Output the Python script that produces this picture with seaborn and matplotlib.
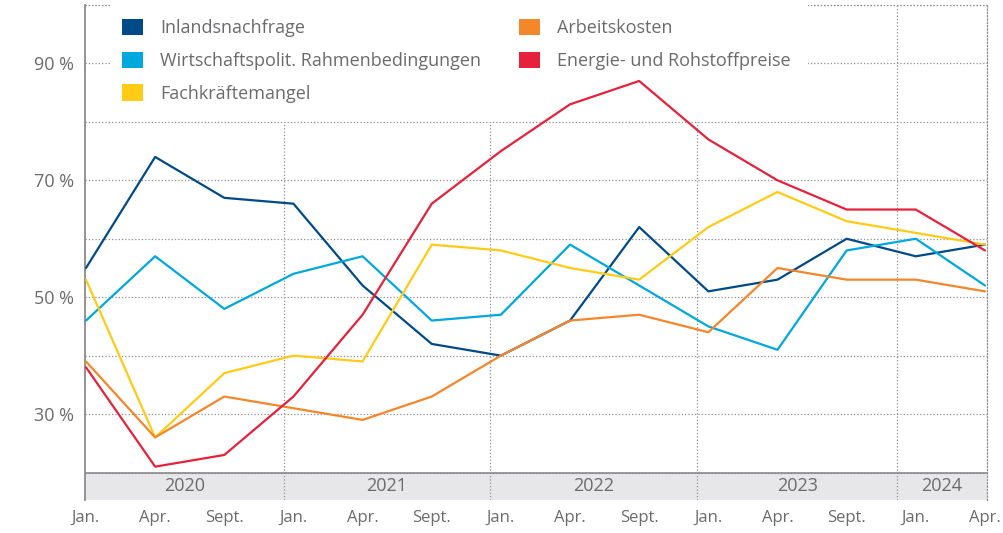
import numpy as np
import pandas as pd
import matplotlib.pyplot as plt
import seaborn as sns
from matplotlib.patches import Patch, Rectangle

sns.set_style('white')
plt.rcParams['font.family'] = ['Open Sans', 'DejaVu Sans']

# quarterly survey points, Jan 2020 .. Apr 2024
months = ['Jan.', 'Apr.', 'Sept.'] * 4 + ['Jan.', 'Apr.']
years = ['2020', '2021', '2022', '2023', '2024']

inlandsnachfrage = [55, 74, 67, 66, 52, 42, 40, 46, 62, 51, 53, 60, 57, 59]
wirtschaftspolitik = [46, 57, 48, 54, 57, 46, 47, 59, 52, 45, 41, 58, 60, 52]
fachkraeftemangel = [53, 26, 37, 40, 39, 59, 58, 55, 53, 62, 68, 63, 61, 59]
arbeitskosten = [39, 26, 33, 31, 29, 33, 40, 46, 47, 44, 55, 53, 53, 51]
energiepreise = [38, 21, 23, 33, 47, 66, 75, 83, 87, 77, 70, 65, 65, 58]

names = ['Inlandsnachfrage', 'Wirtschaftspolit. Rahmenbedingungen', 'Fachkräftemangel',
         'Arbeitskosten', 'Energie- und Rohstoffpreise']
colors = ['#004a88', '#00a8dd', '#ffcb14', '#f5862a', '#e6213b']

wide = pd.DataFrame({'t': np.arange(len(months)),
                     names[0]: inlandsnachfrage,
                     names[1]: wirtschaftspolitik,
                     names[2]: fachkraeftemangel,
                     names[3]: arbeitskosten,
                     names[4]: energiepreise})
df = wide.melt(id_vars='t', var_name='series', value_name='value')

text_col = '#6b6b6d'
grid_col = '#8f8f8f'

fig = plt.figure(figsize=(10.04, 5.33), dpi=100)
ax = fig.add_axes([85 / 1004, 1 - 500 / 533, 902 / 1004, 495 / 533])

ybot = 20 - 27.5 / 5.844
ax.set_xlim(-1 / 69.15, 901 / 69.15)
ax.set_ylim(ybot, 100)

sns.lineplot(data=df, x='t', y='value', hue='series', hue_order=names,
             palette=colors, linewidth=1.6, legend=False, ax=ax, zorder=3)

# grid
ax.set_axisbelow(True)
ax.set_yticks(range(20, 101, 10))
ax.set_yticklabels(['', '30 %', '', '50 %', '', '70 %', '', '90 %', ''])
ax.yaxis.grid(True, linestyle=':', color=grid_col, linewidth=0.9)
ax.axhline(100, linestyle=':', color=grid_col, linewidth=0.9, clip_on=False, zorder=0.6)

# year band
ax.axhspan(ybot, 20, color='#e7e7e9', zorder=0.4, lw=0)
ax.axhline(20, color='#8a8a8a', linewidth=1.2, zorder=1.5)
seps = [2.86, 5.84, 8.84, 11.73]
ax.vlines(seps[:3], ybot, 80, linestyle=':', color=grid_col, linewidth=0.9, zorder=0.6)
ax.vlines(seps[3], ybot, 100, linestyle=':', color=grid_col, linewidth=0.9, zorder=0.6)
edges = [ax.get_xlim()[0]] + seps + [ax.get_xlim()[1]]
for i, yr in enumerate(years):
    ax.text((edges[i] + edges[i + 1]) / 2, (ybot + 20) / 2, yr, ha='center', va='center',
            fontsize=13, color=text_col)

# white area behind the legend
ax.add_patch(Rectangle((24 / 69.15, 80.3), 698 / 69.15, 21, facecolor='white',
                       edgecolor='none', zorder=1, clip_on=False))

ax.set_xticks(range(len(months)))
ax.set_xticklabels(months)
ax.tick_params(axis='x', length=0, pad=7, labelsize=12, labelcolor=text_col)
ax.tick_params(axis='y', length=0, pad=8, labelsize=13, labelcolor=text_col)
ax.set_xlabel('')
ax.set_ylabel('')

for s in ['top', 'bottom']:
    ax.spines[s].set_visible(False)
ax.spines['left'].set_color('#8a8a8a')
ax.spines['left'].set_linewidth(1.3)
ax.spines['right'].set_color(grid_col)
ax.spines['right'].set_linestyle(':')
ax.spines['right'].set_linewidth(0.9)

handles = [Patch(facecolor=c, edgecolor='none') for c in colors]
leg_kw = dict(frameon=False, loc='upper left', bbox_transform=fig.transFigure,
              borderaxespad=0, borderpad=0, handlelength=1.15, handleheight=1.0,
              handletextpad=0.95, labelspacing=0.8, fontsize=13, labelcolor=text_col)
leg1 = ax.legend(handles[:3], names[:3], bbox_to_anchor=(122 / 1004, 1 - 19 / 533), **leg_kw)
ax.add_artist(leg1)
ax.legend(handles[3:], names[3:], bbox_to_anchor=(519 / 1004, 1 - 19 / 533), **leg_kw)

fig.savefig('out.png', dpi=100)
